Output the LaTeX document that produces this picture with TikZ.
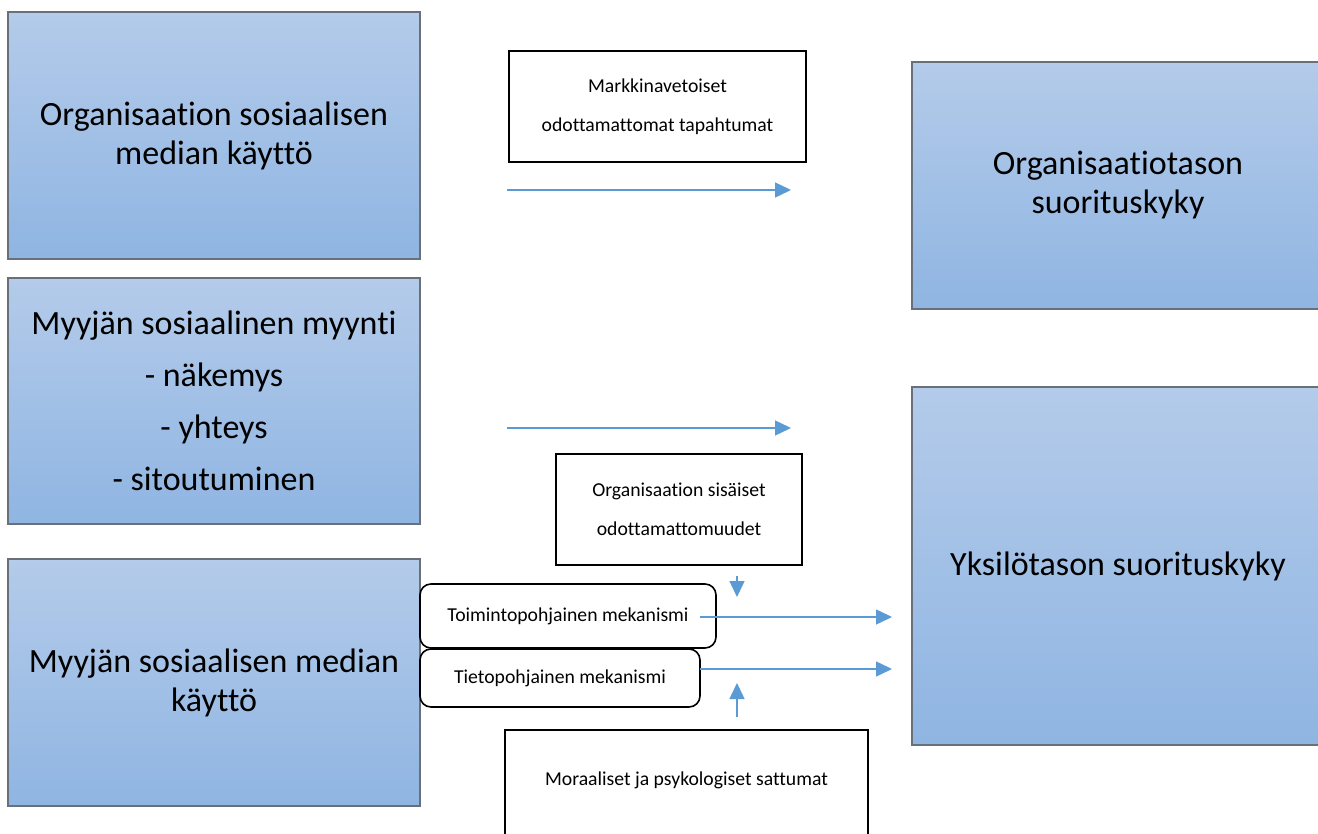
\documentclass[tikz,border=0pt]{standalone}
\usepackage{fontspec}
\setmainfont{Carlito}[Ligatures=NoCommon]
\usetikzlibrary{arrows.meta}

\definecolor{boxtop}{RGB}{180,203,234}
\definecolor{boxbottom}{RGB}{143,181,226}
\definecolor{boxline}{RGB}{105,112,122}
\definecolor{nuolisin}{RGB}{91,155,213}

\begin{document}
\begin{tikzpicture}[x=1pt,y=-1pt,
  isolaatikko/.style={draw=boxline,line width=1.2pt,top color=boxtop,bottom color=boxbottom,
    minimum width=412pt,inner sep=0pt,align=center,font=\fontsize{34}{39}\selectfont},
  tekstilaatikko/.style={draw=black,line width=1.6pt,fill=white,inner sep=0pt,align=center,
    font=\fontsize{19.7}{39}\selectfont},
  mekanismi/.style={tekstilaatikko,rounded corners=11pt},
  nuoli/.style={draw=nuolisin,line width=1.5pt,-{Triangle[length=16pt,width=15pt]}}]

      \path[use as bounding box] (0,0) rectangle (1318,834);
      \clip (0,0) rectangle (1318,834);
      \fill[white] (0,0) rectangle (1318,834);

      %vasen sarake
      \node[isolaatikko,minimum height=247pt] (orgsome) at (214,135.5) {Organisaation sosiaalisen\\median käyttö};
      \node[isolaatikko,minimum height=246pt,font=\fontsize{34}{52}\selectfont] (myynti) at (214,401)
      	{Myyjän sosiaalinen myynti\\- näkemys\\- yhteys\\- sitoutuminen};
      \node[isolaatikko,minimum height=247pt] (myyjasome) at (214,682.5) {Myyjän sosiaalisen median\\käyttö};

      %oikea sarake
      \node[isolaatikko,minimum height=247pt] (orgtaso) at (1118,185.5) {Organisaatiotason\\suorituskyky};
      \node[isolaatikko,minimum height=358pt] (yksilo) at (1118,566) {Yksilötason suorituskyky};

      %keskimmäiset laatikot
      \node[tekstilaatikko,minimum width=297pt,minimum height=111pt] (markkina) at (657.5,106.5)
      	{Markkinavetoiset\\odottamattomat tapahtumat};
      \node[tekstilaatikko,minimum width=246pt,minimum height=111pt] (sisaiset) at (679,509.5)
      	{Organisaation sisäiset\\odottamattomuudet};
      \node[mekanismi,minimum width=296pt,minimum height=64pt] (toiminto) at (568,616) {Toimintopohjainen mekanismi};
      \node[mekanismi,minimum width=280pt,minimum height=58pt] (tieto) at (560,678) {Tietopohjainen mekanismi};
      \node[tekstilaatikko,anchor=north,minimum width=363pt,text height=56pt,text depth=85pt] (moraali) at (686.5,729)
      	{Moraaliset ja psykologiset sattumat};

      %nuolet
      \foreach \y/\n in {190/1,428/2}  {
      	\coordinate (alku\n) at (507,\y);
      	\coordinate (loppu\n) at (791,\y);
      	\draw[nuoli] (alku\n) -- (loppu\n);
      }

      \foreach \y/\n in {617/3,669/4}  {
      	\coordinate (alku\n) at (700,\y);
      	\coordinate (loppu\n) at (892,\y);
      	\draw[nuoli] (alku\n) -- (loppu\n);
      }

      \coordinate (alku5) at (737,576);
      \coordinate (loppu5) at (737,597);
      \draw[nuoli] (alku5) -- (loppu5);
      \coordinate (alku6) at (737,717);
      \coordinate (loppu6) at (737,683);
      \draw[nuoli] (alku6) -- (loppu6);

\end{tikzpicture}
\end{document}
